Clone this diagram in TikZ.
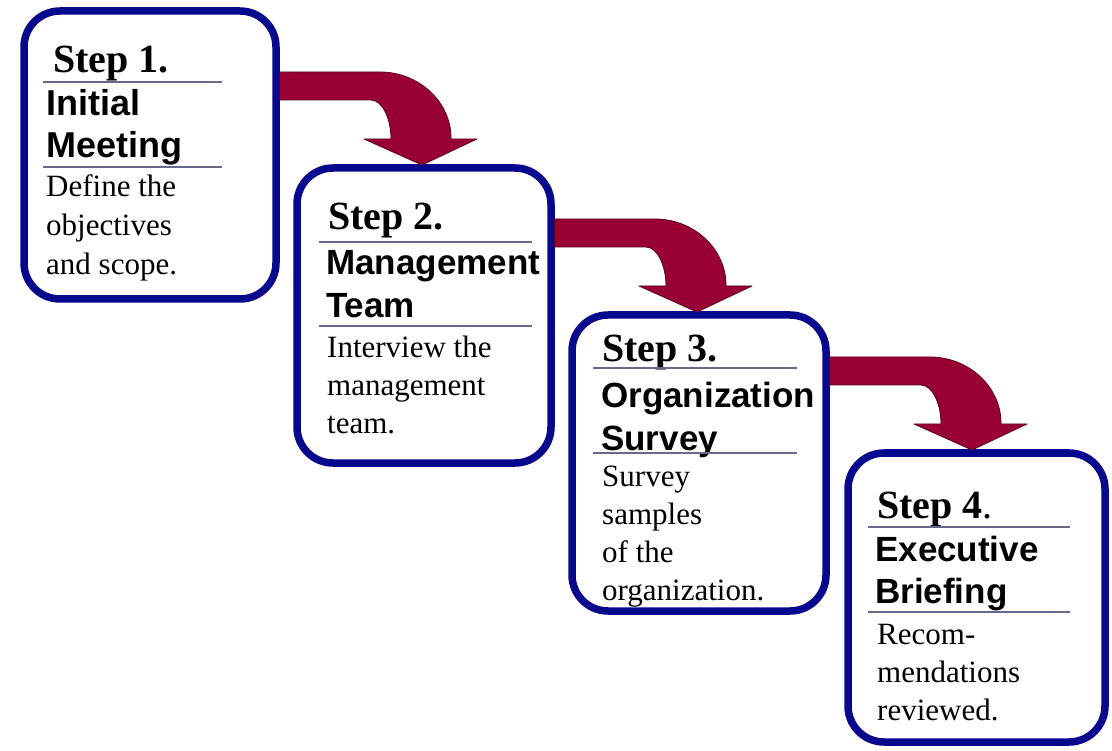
\documentclass[tikz,border=0pt]{standalone}
\usepackage{fontspec}
\setmainfont{Liberation Serif}
\setsansfont{Liberation Sans}
\usetikzlibrary{calc}
\definecolor{boxblue}{RGB}{8,8,140}
\definecolor{rulegray}{RGB}{105,105,140}
\definecolor{arrowred}{RGB}{153,0,51}
\definecolor{arrowedge}{RGB}{90,0,25}
\tikzset{
 stepbox/.style={draw=boxblue, line width=7.5pt, rounded corners=36pt, fill=white, rectangle, outer sep=0pt, inner sep=0pt, anchor=north west},
 steplabel/.style={anchor=base west, inner sep=0pt, font=\fontsize{40}{40}\selectfont\bfseries},
 titlelabel/.style={anchor=base west, inner sep=0pt, font=\fontsize{35}{35}\selectfont\sffamily\bfseries},
 bodylabel/.style={anchor=base west, inner sep=0pt, font=\fontsize{31}{31}\selectfont},
 rulestyle/.style={draw=rulegray, line width=1.6pt},
 bentarrow/.style={fill=arrowred, draw=arrowedge, line width=0.8pt, line join=round},
}
\newcommand\bentArrow[1]{%
 \begin{scope}[shift={#1}]
  \path[bentarrow] (3.5,0) -- (104,0) .. controls (143,0) and (175,30) .. (175,66) -- (175,67) -- (201,67) -- (146,93) -- (88,67) -- (115,67) .. controls (115,46) and (106,28) .. (95,28) -- (3.5,28) -- cycle;
 \end{scope}}
\begin{document}
\begin{tikzpicture}[x=1pt,y=-1pt]
\fill[white] (0,0) rectangle (1112,751);
\useasboundingbox (0,0) rectangle (1112,751);

% boxes
\node[stepbox, minimum width=252pt, minimum height=288pt] (s1) at (24,11) {};
\node[stepbox, minimum width=254pt, minimum height=295pt] (s2) at (297,168) {};
\node[stepbox, minimum width=254pt, minimum height=296pt] (s3) at (572,315) {};
\node[stepbox, minimum width=257pt, minimum height=289pt] (s4) at (848,453) {};

% arrows
\bentArrow{($(s1.north east)+(0,61)$)}
\bentArrow{($(s2.north east)+(0,51)$)}
\bentArrow{($(s3.north east)+(0,42)$)}

% box 1
\node[steplabel] (s1step) at (53,73) {Step 1.};
\draw[rulestyle] (43,82) -- (222,82);
\node[titlelabel, font=\fontsize{36}{36}\selectfont\sffamily\bfseries] (s1t1) at (46,116) {Initial};
\node[titlelabel, font=\fontsize{36}{36}\selectfont\sffamily\bfseries] (s1t2) at (46,158) {Meeting};
\draw[rulestyle] (43,167) -- (222,167);
\node[bodylabel] (s1b1) at (46,197) {Define the};
\node[bodylabel] (s1b2) at (46,236) {objectives};
\node[bodylabel] (s1b3) at (46,275) {and scope.};

% box 2
\node[steplabel] (s2step) at (328,230) {Step 2.};
\draw[rulestyle] (319,242) -- (532,242);
\node[titlelabel] (s2t1) at (326,275) {Management};
\node[titlelabel] (s2t2) at (326,318) {Team};
\draw[rulestyle] (319,326) -- (532,326);
\node[bodylabel] (s2b1) at (327,358) {Interview the};
\node[bodylabel] (s2b2) at (327,396) {management};
\node[bodylabel] (s2b3) at (327,434) {team.};

% box 3
\node[steplabel] (s3step) at (602,362) {Step 3.};
\draw[rulestyle] (593,368) -- (797,368);
\node[titlelabel] (s3t1) at (601,408) {Organization};
\node[titlelabel] (s3t2) at (601,450) {Survey};
\draw[rulestyle] (593,453) -- (797,453);
\node[bodylabel] (s3b1) at (602,486) {Survey};
\node[bodylabel] (s3b2) at (602,524) {samples};
\node[bodylabel] (s3b3) at (602,562) {of the};
\node[bodylabel] (s3b4) at (602,600) {organization.};

% box 4
\node[steplabel] (s4step) at (877,518) {Step 4{\mdseries.}};
\draw[rulestyle] (868,527) -- (1070,527);
\node[titlelabel] (s4t1) at (875,561) {Executive};
\node[titlelabel] (s4t2) at (875,603) {Briefing};
\draw[rulestyle] (868,612) -- (1070,612);
\node[bodylabel] (s4b1) at (877,644) {Recom-};
\node[bodylabel] (s4b2) at (877,682) {mendations};
\node[bodylabel] (s4b3) at (877,720) {reviewed.};
\end{tikzpicture}
\end{document}
